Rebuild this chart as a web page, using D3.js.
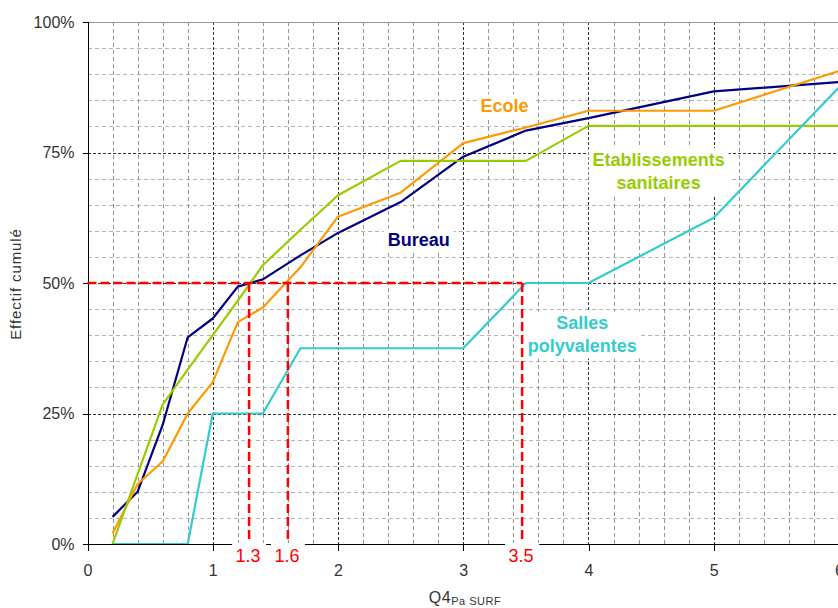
<!DOCTYPE html>
<html>
<head>
<meta charset="utf-8">
<script src="https://cdn.jsdelivr.net/npm/d3@7"></script>
<style>
  body { margin: 0; background: #fff; }
  svg { display: block; font-family: "Liberation Sans", Arial, sans-serif; }
</style>
</head>
<body>
<div id="chart"></div>
<script>
const width = 838;
const height = 608;

// Data: cumulative share (%) per threshold of Q4Pa SURF
const xValues = [0.2, 0.4, 0.6, 0.8, 1.0, 1.2, 1.4, 1.7, 2.0, 2.5, 3.0, 3.5, 4.0, 5.0, 6.0];
const bureau = [5.2, 10.0, 22.8, 39.6, 43.2, 49.3, 50.7, 55.3, 59.6, 65.5, 74.2, 79.2, 81.6, 86.7, 88.5];
const ecole = [2.0, 11.5, 15.8, 25.0, 31.0, 42.5, 45.3, 53.0, 62.7, 67.3, 76.8, 79.8, 83.0, 83.0, 90.6];
const sanitaires = [0.0, 13.4, 26.7, 33.4, 40.0, 46.6, 53.4, 60.2, 66.8, 73.4, 73.4, 73.4, 80.1, 80.1, 80.1];
const salles = [0.0, 0.0, 0.0, 0.0, 25.0, 25.0, 25.0, 37.5, 37.5, 37.5, 37.5, 50.0, 50.0, 62.5, 87.5];

const seriesNames = ["Bureau", "Ecole", "Etablissements sanitaires", "Salles polyvalentes"];
const seriesValues = [bureau, ecole, sanitaires, salles];
const seriesColours = ["#000080", "#ff9900", "#99cc00", "#33cccc"];

// Median markers (50 %)
const medianX = [1.29, 1.6, 3.47];
const medianLabels = ["1.3", "1.6", "3.5"];

const yTicks = [0, 25, 50, 75, 100];
const xTicks = [0, 1, 2, 3, 4, 5, 6];

// Series name annotations, in data units (centre x, baseline y)
const annotations = [
    { lines: ["Ecole"], x: 3.33, y: 82.7, colour: "#ff9900" },
    { lines: ["Bureau"], x: 2.645, y: 57.0, colour: "#000080" },
    { lines: ["Etablissements", "sanitaires"], x: 4.56, y: 72.4, colour: "#99cc00" },
    { lines: ["Salles", "polyvalentes"], x: 3.95, y: 41.1, colour: "#33cccc" },
];

const x = d3.scaleLinear().domain([0, 6]).range([87.5, 839]);
const y = d3.scaleLinear().domain([0, 100]).range([544, 22]);

const svg = d3.create("svg")
    .attr("width", width)
    .attr("height", height);

// --- Gridlines ---
const grid = svg.append("g").attr("shape-rendering", "crispEdges");
const hGrid = d3.range(5, 100, 5);
const vGrid = d3.range(1, 31).map(i => i * 0.2);

grid.selectAll(".hminor")
    .data(hGrid.filter(v => v % 25 !== 0))
    .join("line")
    .attr("x1", x(0)).attr("x2", x(6))
    .attr("y1", d => Math.round(y(d)) + 0.5).attr("y2", d => Math.round(y(d)) + 0.5)
    .attr("stroke", "#b4b4b4")
    .attr("stroke-dasharray", "4,3");

grid.selectAll(".vminor")
    .data(vGrid.filter(v => Math.abs(v - Math.round(v)) > 0.01))
    .join("line")
    .attr("x1", d => Math.round(x(d)) + 0.5).attr("x2", d => Math.round(x(d)) + 0.5)
    .attr("y1", y(100)).attr("y2", y(0))
    .attr("stroke", "#959595")
    .attr("stroke-dasharray", "4,3");

grid.selectAll(".hmajor")
    .data([25, 50, 75])
    .join("line")
    .attr("x1", x(0)).attr("x2", x(6))
    .attr("y1", d => Math.round(y(d)) + 0.5).attr("y2", d => Math.round(y(d)) + 0.5)
    .attr("stroke", "#333")
    .attr("stroke-dasharray", "3,2");

grid.selectAll(".vmajor")
    .data([1, 2, 3, 4, 5])
    .join("line")
    .attr("x1", d => Math.round(x(d)) + 0.5).attr("x2", d => Math.round(x(d)) + 0.5)
    .attr("y1", y(100)).attr("y2", y(0))
    .attr("stroke", "#333")
    .attr("stroke-dasharray", "3,2");

// top border
grid.append("line")
    .attr("x1", x(0)).attr("x2", x(6))
    .attr("y1", Math.round(y(100)) + 0.5).attr("y2", Math.round(y(100)) + 0.5)
    .attr("stroke", "#999");

// --- Annotation background boxes + text ---
const boxLayer = svg.append("g");
const lineLayer = svg.append("g");
const textLayer = svg.append("g");

annotations.forEach(a => {
    const t = textLayer.append("text")
        .attr("text-anchor", "middle")
        .attr("font-size", "18px")
        .attr("font-weight", "bold")
        .attr("fill", a.colour);
    a.lines.forEach((l, i) => {
        t.append("tspan")
            .attr("x", x(a.x))
            .attr("y", y(a.y) + i * 23)
            .text(l);
    });
    a.node = t.node();
});

// --- Axes ---
const yAxis = svg.append("g")
    .attr("transform", `translate(${Math.round(x(0)) + 0.5},0)`)
    .call(d3.axisLeft(y).tickValues(yTicks).tickSize(6).tickPadding(8).tickFormat(d => d + "%"));

const xAxis = svg.append("g")
    .attr("transform", `translate(0,${Math.round(y(0)) + 0.5})`)
    .call(d3.axisBottom(x).tickValues(xTicks).tickSize(6).tickPadding(14).tickFormat(d3.format("d")));

[yAxis, xAxis].forEach(ax => {
    ax.select(".domain").attr("stroke", "#000").attr("shape-rendering", "crispEdges");
    ax.selectAll(".tick line").attr("stroke", "#000").attr("shape-rendering", "crispEdges");
    ax.selectAll(".tick text")
        .attr("font-size", "16px")
        .attr("font-family", "Liberation Sans, Arial, sans-serif")
        .attr("fill", "#333");
});
yAxis.select(".domain").attr("d", `M0,${y(0)}V${y(100)}`);
xAxis.select(".domain").attr("d", `M${x(0)},0H${x(6)}`);
xAxis.selectAll(".tick text").attr("dy", "0.71em");

// --- Series lines ---
const line = d3.line()
    .x((d, i) => x(xValues[i]))
    .y(d => y(d));

lineLayer.selectAll("path")
    .data(seriesValues)
    .join("path")
    .attr("d", d => line(d))
    .attr("fill", "none")
    .attr("stroke", (d, i) => seriesColours[i])
    .attr("stroke-width", 2.2)
    .attr("stroke-linejoin", "round");

// --- Median markers ---
const red = svg.append("g");
red.append("line")
    .attr("x1", x(0)).attr("x2", x(d3.max(medianX)))
    .attr("y1", y(50)).attr("y2", y(50))
    .attr("stroke", "#ff0000")
    .attr("stroke-width", 2.5)
    .attr("stroke-dasharray", "9,4");

red.selectAll(".vred")
    .data(medianX)
    .join("line")
    .attr("x1", d => x(d)).attr("x2", d => x(d))
    .attr("y1", y(50)).attr("y2", y(0))
    .attr("stroke", "#ff0000")
    .attr("stroke-width", 2.5)
    .attr("stroke-dasharray", "9,4");

const redLabels = red.selectAll(".rlabel")
    .data(medianX)
    .join("g");
redLabels.append("rect")
    .attr("x", d => x(d) - 17)
    .attr("y", y(0) - 1)
    .attr("width", 34)
    .attr("height", 24)
    .attr("fill", "#fff");
redLabels.append("text")
    .attr("x", d => x(d) - 1)
    .attr("y", y(0) + 17.5)
    .attr("text-anchor", "middle")
    .attr("font-size", "18px")
    .attr("fill", "#ff0000")
    .text((d, i) => medianLabels[i]);

// --- Axis titles ---
svg.append("text")
    .attr("transform", `translate(21,284) rotate(-90)`)
    .attr("text-anchor", "middle")
    .attr("font-size", "15px")
    .attr("letter-spacing", "0.9px")
    .attr("fill", "#333")
    .text("Effectif cumulé");

const xt = svg.append("text")
    .attr("x", 465)
    .attr("y", 603)
    .attr("text-anchor", "middle")
    .attr("fill", "#333")
    .attr("letter-spacing", "0.5px");
xt.append("tspan").attr("font-size", "16px").text("Q4");
xt.append("tspan").attr("font-size", "11px").attr("dy", "2").text("Pa SURF");

document.querySelector("#chart").append(svg.node());

// white boxes behind the series names (need rendered sizes)
annotations.forEach(a => {
    const b = a.node.getBBox();
    boxLayer.append("rect")
        .attr("x", b.x - 4)
        .attr("y", b.y - 2)
        .attr("width", b.width + 8)
        .attr("height", b.height + 4)
        .attr("fill", "#fff");
});
</script>
</body>
</html>
